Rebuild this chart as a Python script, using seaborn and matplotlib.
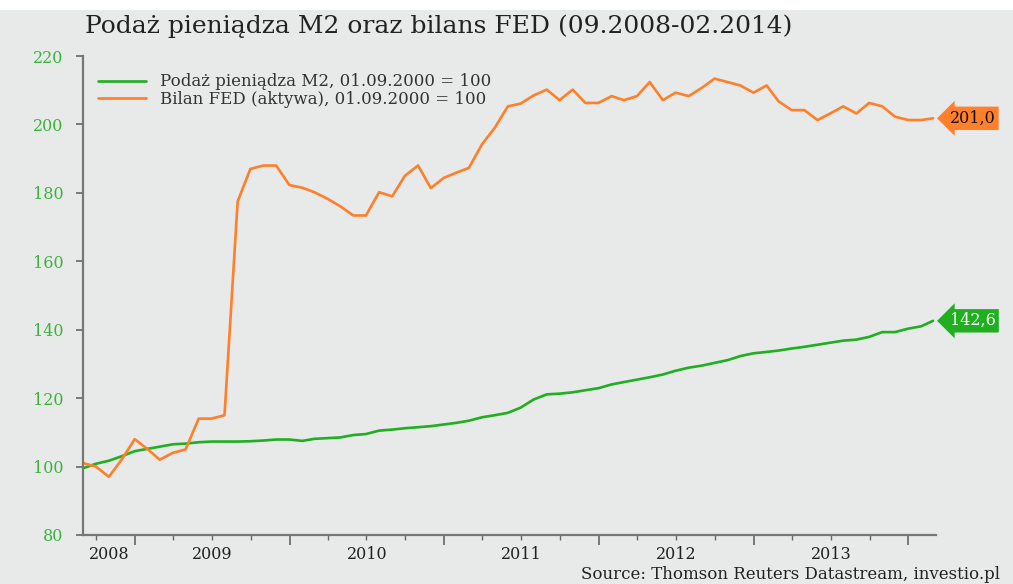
import numpy as np
import pandas as pd
import matplotlib
matplotlib.use("Agg")
import matplotlib.pyplot as plt
import matplotlib.dates as mdates
import seaborn as sns

# monthly points, Sep 2008 - Feb 2014 (index 01.09.2000 = 100)
dates = pd.date_range("2008-08-31", "2014-02-28", freq="ME")

m2 = [99.5, 100.8, 101.7, 103.0, 104.5, 105.2, 105.8, 106.5, 106.7, 107.1,
      107.3, 107.3, 107.3, 107.4, 107.6, 107.9, 107.9, 107.5, 108.1, 108.3,
      108.5, 109.2, 109.5, 110.5, 110.8, 111.2, 111.5, 111.8, 112.3, 112.8,
      113.4, 114.4, 115.0, 115.7, 117.2, 119.6, 121.1, 121.3, 121.7, 122.3,
      122.9, 124.0, 124.7, 125.4, 126.1, 126.9, 128.0, 128.9, 129.5, 130.3,
      131.1, 132.3, 133.1, 133.5, 133.9, 134.5, 135.0, 135.6, 136.2, 136.8,
      137.1, 137.9, 139.3, 139.3, 140.3, 141.0, 142.6]

fed = [101.0, 100.0, 97.0, 102.0, 108.0, 105.0, 102.0, 104.0, 105.0, 114.0,
       114.0, 115.0, 177.5, 187.0, 188.0, 188.0, 182.3, 181.5, 180.2, 178.3,
       176.1, 173.4, 173.4, 180.2, 179.0, 185.0, 188.0, 181.4, 184.4, 186.0,
       187.3, 194.2, 199.0, 205.3, 206.1, 208.5, 210.2, 207.1, 210.2, 206.3,
       206.3, 208.3, 207.1, 208.3, 212.4, 207.1, 209.3, 208.3, 210.7, 213.4,
       212.4, 211.4, 209.3, 211.4, 206.8, 204.2, 204.2, 201.3, 203.2, 205.3,
       203.2, 206.3, 205.3, 202.3, 201.3, 201.3, 201.8]

years = [2008, 2009, 2010, 2011, 2012, 2013]
yticks = [80, 100, 120, 140, 160, 180, 200, 220]
last_m2_label = "142,6"
last_fed_label = "201,0"

title = "Podaż pieniądza M2 oraz bilans FED (09.2008-02.2014)"
m2_name = "Podaż pieniądza M2, 01.09.2000 = 100"
fed_name = "Bilan FED (aktywa), 01.09.2000 = 100"
source = "Source: Thomson Reuters Datastream, investio.pl"

bg = "#e8e9e9"
green = "#1faf1f"
orange = "#ff7f2a"

sns.set_theme(style="ticks")
plt.rcParams["font.family"] = ["DejaVu Serif", "Liberation Serif"]
plt.rcParams["axes.facecolor"] = bg
plt.rcParams["figure.facecolor"] = bg

fig = plt.figure(figsize=(10.13, 5.84), dpi=100)
ax = fig.add_axes([0.082, 0.084, 0.842, 0.82])

# white band at the very top of the image
fig.patches.append(plt.Rectangle((0, 0.983), 1, 0.017, transform=fig.transFigure,
                                 facecolor="white", edgecolor="none"))

sns.lineplot(x=dates, y=m2, color=green, linewidth=1.9, label=m2_name, ax=ax)
sns.lineplot(x=dates, y=fed, color=orange, linewidth=1.9, label=fed_name, ax=ax)

ax.set_ylim(80, 220)
ax.set_yticks(yticks)
ax.tick_params(axis="y", colors="#666666", labelcolor="#3cb43c", labelsize=11.5,
               length=5, width=1.2, pad=9)
ax.set_xlim(dates[0], dates[-1] + pd.Timedelta(days=7))

ax.xaxis.set_major_locator(mdates.YearLocator())
ax.xaxis.set_minor_locator(mdates.MonthLocator(bymonth=[1, 4, 7, 10]))
ax.xaxis.set_major_formatter(plt.NullFormatter())
ax.tick_params(axis="x", which="major", length=7, width=1.2, colors="#666666")
ax.tick_params(axis="x", which="minor", length=3.5, width=1.0, colors="#666666")

# year labels in the middle of each year
left = mdates.date2num(dates[0])
for y in years:
    start = max(mdates.date2num(pd.Timestamp(f"{y}-01-01")), left)
    end = mdates.date2num(pd.Timestamp(f"{y + 1}-01-01"))
    ax.text((start + end) / 2, -0.04, str(y), transform=ax.get_xaxis_transform(),
            ha="center", va="center", fontsize=11.5, color="#222222")

ax.set_xlabel("")
ax.set_ylabel("")
for s in ["top", "right"]:
    ax.spines[s].set_visible(False)
for s in ["left", "bottom"]:
    ax.spines[s].set_color("#777777")
    ax.spines[s].set_linewidth(1.6)

leg = ax.legend(loc="upper left", frameon=False, fontsize=12, handlelength=2.9,
                handletextpad=0.8, labelspacing=0.05, bbox_to_anchor=(0.0, 0.995))
for t in leg.get_texts():
    t.set_color("#333333")

# end-value tags
ax.annotate(last_fed_label, xy=(dates[-1], fed[-1]), xytext=(12, 0),
            textcoords="offset points", ha="left", va="center", fontsize=11.5,
            color="#111111", annotation_clip=False,
            bbox=dict(boxstyle="larrow,pad=0.2", fc=orange, ec="none"))
ax.annotate(last_m2_label, xy=(dates[-1], m2[-1]), xytext=(12, 0),
            textcoords="offset points", ha="left", va="center", fontsize=11.5,
            color="white", annotation_clip=False,
            bbox=dict(boxstyle="larrow,pad=0.2", fc=green, ec="none"))

fig.text(0.084, 0.955, title, fontsize=18, color="#222222", ha="left", va="center")
fig.text(0.574, 0.016, source, fontsize=12, color="#222222", ha="left", va="center")

fig.savefig("out.png", dpi=100, facecolor=bg)
